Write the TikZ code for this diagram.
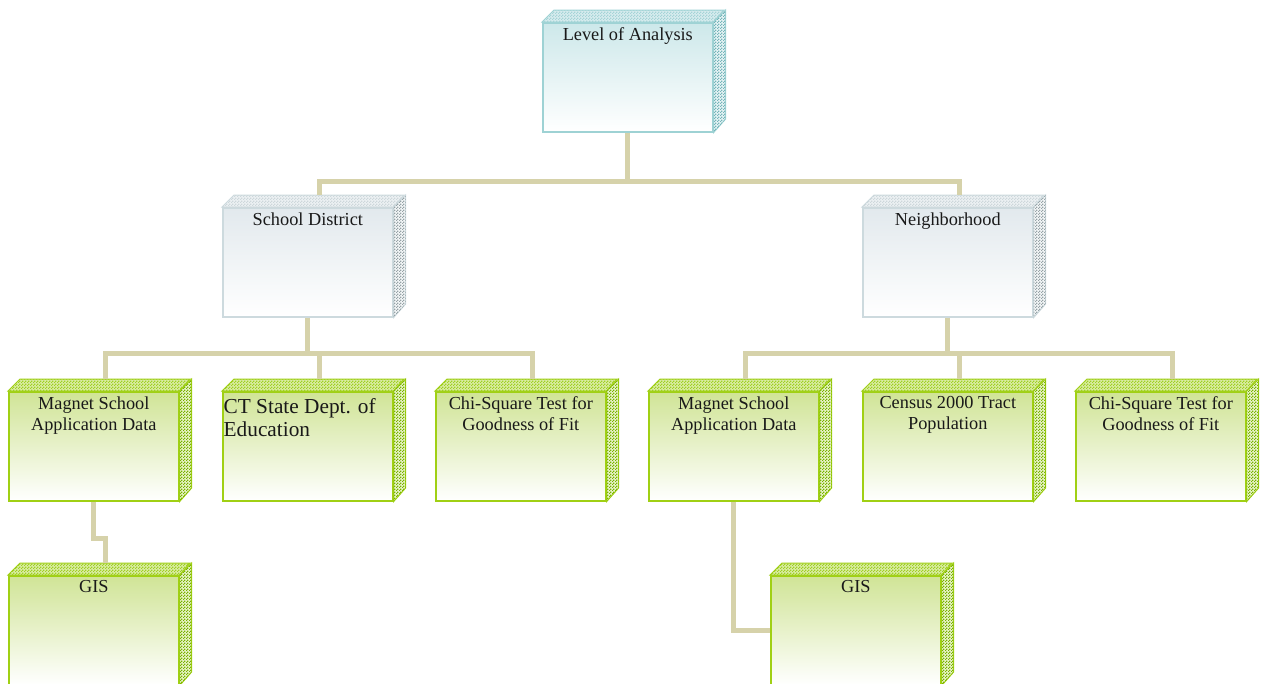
\documentclass[tikz,border=0pt]{standalone}
\usepackage{fontspec}
\setmainfont{Liberation Serif}
\usetikzlibrary{patterns}

\pgfdeclarepatternformonly{finecheck}{\pgfpointorigin}{\pgfqpoint{3pt}{3pt}}{\pgfqpoint{3pt}{3pt}}{%
  \pgfpathrectangle{\pgfpointorigin}{\pgfqpoint{1.5pt}{1.5pt}}%
  \pgfpathrectangle{\pgfqpoint{1.5pt}{1.5pt}}{\pgfqpoint{1.5pt}{1.5pt}}%
  \pgfusepath{fill}}

\definecolor{cyedge}{RGB}{158,210,212}
\definecolor{cytop}{RGB}{205,232,234}
\definecolor{cyface}{RGB}{215,236,238}
\definecolor{cypat}{RGB}{165,212,215}
\definecolor{cyside}{RGB}{115,180,185}
\definecolor{gredge}{RGB}{205,218,222}
\definecolor{grtop}{RGB}{226,233,237}
\definecolor{grface}{RGB}{236,241,243}
\definecolor{grpat}{RGB}{205,215,219}
\definecolor{grside}{RGB}{150,162,166}
\definecolor{gnedge}{RGB}{160,208,20}
\definecolor{gntop}{RGB}{208,228,150}
\definecolor{gnface}{RGB}{218,236,165}
\definecolor{gnpat}{RGB}{160,208,35}
\definecolor{gnside}{RGB}{120,178,0}
\definecolor{wire}{RGB}{214,210,170}

\tikzset{
  box/.style={draw=#1edge, line width=1.6pt, top color=#1top, bottom color=white,
    anchor=north west, inner sep=0pt, minimum width=170pt, minimum height=109pt},
  lbl/.style={font=\fontsize{18.3}{21}\selectfont, align=center, inner xsep=2pt, inner ysep=5.5pt, text=black!90},
  bigtext/.style={font=\fontsize{21.3}{23}\selectfont, align=left, inner xsep=1.5pt, inner ysep=7.5pt, text=black!90},
  topface/.style={draw=#1edge, line width=1pt, fill=#1face, postaction={pattern=finecheck, pattern color=#1pat}},
  sideface/.style={draw=#1edge, line width=1pt, fill=#1face!60, postaction={pattern=finecheck, pattern color=#1side}},
  link/.style={draw=wire, line width=5pt},
}

\begin{document}
\begin{tikzpicture}[x=1pt, y=-1pt]
	\useasboundingbox (0,0) rectangle (1261,683);
	% boxes
	\node[box=cy] (top)  at (542,22)  [label={[lbl,anchor=north]north:Level of Analysis}] {};
	\node[box=gr] (sd)   at (222,207) [label={[lbl,anchor=north]north:School District}] {};
	\node[box=gr] (nb)   at (862,207) [label={[lbl,anchor=north]north:Neighborhood}] {};
	\node[box=gn] (m1)   at (8,391)   [label={[lbl,anchor=north]north:{Magnet School\\Application Data}}] {};
	\node[box=gn] (ct)   at (222,391) [label={[bigtext,anchor=north west]north west:{CT State Dept. of\\Education}}] {};
	\node[box=gn] (cs1)  at (435,391) [label={[lbl,anchor=north]north:{Chi-Square Test for\\Goodness of Fit}}] {};
	\node[box=gn] (m2)   at (648,391) [label={[lbl,anchor=north]north:{Magnet School\\Application Data}}] {};
	\node[box=gn] (ce)   at (862,391) [label={[lbl,anchor=north]north:{Census 2000 Tract\\Population}}] {};
	\node[box=gn] (cs2)  at (1075,391) [label={[lbl,anchor=north]north:{Chi-Square Test for\\Goodness of Fit}}] {};
	\node[box=gn] (gis1) at (8,575)   [label={[lbl,anchor=north]north:GIS}] {};
	\node[box=gn] (gis2) at (770,575) [label={[lbl,anchor=north]north:GIS}] {};
	% 3d faces
	\foreach \n/\c in {top/cy, sd/gr, nb/gr, m1/gn, ct/gn, cs1/gn, m2/gn, ce/gn, cs2/gn, gis1/gn, gis2/gn} {
		\draw[topface=\c]  (\n.north west) -- ++(12,-12) -- ++(170,0) -- (\n.north east) -- cycle;
		\draw[sideface=\c] (\n.north east) -- ++(12,-12) -- ++(0,109) -- (\n.south east) -- cycle;
	}
	% connectors
	\draw[link] (top.south) -- ++(0,49) coordinate (topbus);
	\draw[link] (topbus) -| ([shift={(12,-12)}]sd.north);
	\draw[link] (topbus) -| ([shift={(12,-12)}]nb.north);
	\draw[link] (sd.south) -- ++(0,36) coordinate (sdbus);
	\draw[link] (sdbus) -| ([shift={(12,-12)}]m1.north);
	\draw[link] (sdbus) -| ([shift={(12,-12)}]ct.north);
	\draw[link] (sdbus) -| ([shift={(12,-12)}]cs1.north);
	\draw[link] (nb.south) -- ++(0,36) coordinate (nbbus);
	\draw[link] (nbbus) -| ([shift={(12,-12)}]m2.north);
	\draw[link] (nbbus) -| ([shift={(12,-12)}]ce.north);
	\draw[link] (nbbus) -| ([shift={(12,-12)}]cs2.north);
	\draw[link] (m1.south) -- ++(0,37) -| ([shift={(12,-12)}]gis1.north);
	\draw[link] (m2.south) |- (gis2.west);
\end{tikzpicture}
\end{document}
